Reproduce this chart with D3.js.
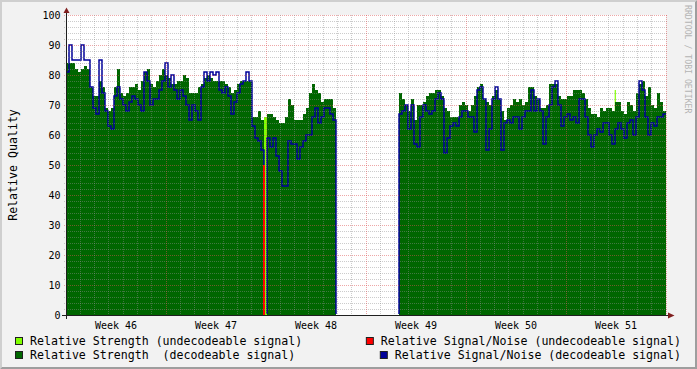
<!DOCTYPE html>
<html>
<head>
<meta charset="utf-8">
<script src="https://cdn.jsdelivr.net/npm/d3@7"></script>
<style>
  html, body { margin: 0; padding: 0; background: #f2f2f2; }
  svg { display: block; font-family: "DejaVu Sans Mono", monospace; }
</style>
</head>
<body>
<svg id="chart" width="697" height="369"></svg>
<script>
// six weeks of consolidated samples, one every 5.04 hours (200 rows)
const weekLabels = ["Week 46", "Week 47", "Week 48", "Week 49", "Week 50", "Week 51"];
const stepHours = 5.04;

// relative strength, decodeable signal (null = no data)
const strength = [
  84, 84, 84, 82, 81, 82, 83, 82, 76, 73,
  73, 78, 76, 69, 68, 69, 76, 82, 74, 73,
  74, 76, 76, 77, 75, 78, 81, 82, 77, 76,
  78, 80, 82, 80, 79, 77, 77, 78, 78, 80,
  79, 74, 74, 74, 76, 77, 79, 80, 79, 78,
  78, 78, 78, 77, 76, 74, 75, 77, 78, 78,
  78, 78, 66, 66, 68, 65, null, 67, 67, 66,
  65, 64, 64, 66, 72, 70, 65, 65, 65, 67,
  69, 74, 77, 75, 74, 71, 72, 72, 72, 69,
  null, null, null, null, null, null, null, null, null, null,
  null, null, null, null, null, null, null, null, null, null,
  null, 74, 72, 70, 68, 72, 65, 70, 70, 71,
  73, 74, 74, 75, 75, 73, 69, 68, 66, 66,
  66, 70, 71, 70, 68, 70, 73, 76, 77, 72,
  71, 70, 73, 75, 72, 68, 65, 69, 70, 72,
  71, 72, 70, 71, 76, 76, 73, 72, 69, 69,
  70, 77, 77, 77, 73, 72, 72, 73, 73, 75,
  75, 75, 74, 72, 69, 67, 67, 66, 69, 68,
  69, 69, 68, 71, 71, 68, 67, 71, 70, 68,
  74, 77, 78, 73, 76, 70, 69, 74, 71, 68
];

// relative signal/noise, decodeable signal
const snr = [
  81, 90, 85, 85, 85, 90, 85, 85, 76, 69,
  67, 85, 74, 68, 63, 62, 73, 76, 72, 70,
  68, 71, 73, 72, 70, 68, 81, 78, 70, 72,
  72, 75, 78, 84, 76, 80, 75, 72, 75, 73,
  70, 65, 70, 68, 65, 76, 81, 78, 81, 80,
  81, 75, 74, 76, 73, 67, 71, 74, 77, 78,
  81, 78, 63, 59, 58, 55, null, 59, 56, 59,
  53, 48, 43, 43, 58, 57, 57, 52, 56, 58,
  60, 60, 66, 69, 64, 66, 69, 69, 67, 65,
  null, null, null, null, null, null, null, null, null, null,
  null, null, null, null, null, null, null, null, null, null,
  null, 67, 68, 70, 62, 70, 57, 56, 66, 70,
  68, 67, 68, 72, 74, 72, 54, 59, 63, 64,
  63, 66, 68, 68, 66, 66, 61, 75, 76, 72,
  55, 62, 72, 76, 72, 55, 64, 65, 64, 66,
  66, 62, 66, 68, 68, 75, 68, 72, 68, 57,
  66, 70, 76, 78, 70, 63, 66, 67, 65, 66,
  64, 72, 72, 66, 60, 56, 60, 62, 61, 64,
  64, 60, 57, 62, 64, 62, 59, 64, 65, 60,
  66, 78, 75, 66, 60, 64, 63, 66, 66, 67
];

// undecodeable signal: short events (start hour, length in hours)
const undecStart = [332.64, 921.8];
const undecHours = [5.04, 2.0];
const undecStrength = [66, 75];
const undecSnr = [50, null];

const yTicks = [0, 10, 20, 30, 40, 50, 60, 70, 80, 90, 100];

const legendLabels = [
  "Relative Strength (undecodeable signal)",
  "Relative Signal/Noise (undecodeable signal)",
  "Relative Strength  (decodeable signal)",
  "Relative Signal/Noise (decodeable signal)"
];
const colors = { undecStrength: "#80ff00", undecSnr: "#ff0000", strength: "#006600", snr: "#000099" };
const legendColors = [colors.undecStrength, colors.undecSnr, colors.strength, colors.snr];

const W = 697, H = 369;
const pLeft = 66, pRight = 666, pTop = 15, pBottom = 315;
const totalHours = 24 * 7 * weekLabels.length;

const x = d3.scaleLinear().domain([0, totalHours]).range([pLeft, pRight]);
const y = d3.scaleLinear().domain([0, 100]).range([pBottom, pTop]);

const svg = d3.select("#chart");

// frame
svg.append("rect").attr("width", W).attr("height", H).attr("fill", "#f2f2f2");
svg.append("path").attr("d", `M0,0H${W}L${W - 2},2H2V${H - 2}L0,${H}Z`).attr("fill", "#cfcfcf");
svg.append("path").attr("d", `M${W},0V${H}H0L2,${H - 2}H${W - 2}V2Z`).attr("fill", "#9e9e9e");
svg.append("rect").attr("x", pLeft).attr("y", pTop)
  .attr("width", pRight - pLeft).attr("height", pBottom - pTop).attr("fill", "#fff");

svg.append("clipPath").attr("id", "lineclip")
  .append("rect").attr("x", pLeft).attr("y", 0).attr("width", pRight - pLeft + 1).attr("height", pBottom - 1);

// unknown rows are drawn as 0, like a CDEF would
function toPoints(arr) {
  const pts = arr.map((v, i) => ({ t: i * stepHours, v: v == null ? 0 : v }));
  pts.push({ t: arr.length * stepHours, v: pts[pts.length - 1].v });
  return pts;
}

const area = d3.area().curve(d3.curveStepAfter)
  .x(d => x(d.t)).y0(y(0)).y1(d => y(d.v));
const line = d3.line().curve(d3.curveStepAfter)
  .x(d => x(d.t)).y(d => y(d.v));

const g = svg.append("g");

// undecodeable strength
undecStart.forEach((s, i) => {
  if (undecStrength[i] == null) return;
  g.append("path")
    .attr("d", d3.area().x(d => x(d.t)).y0(y(0)).y1(d => y(d.v))(
      [{ t: s, v: undecStrength[i] }, { t: s + undecHours[i], v: undecStrength[i] }]))
    .attr("fill", colors.undecStrength);
});

g.append("path").attr("d", area(toPoints(strength))).attr("fill", colors.strength);

g.append("path").attr("d", line(toPoints(snr)))
  .attr("fill", "none").attr("stroke", colors.snr).attr("stroke-width", 1.5)
  .attr("clip-path", "url(#lineclip)");

// undecodeable signal/noise: a narrow spike in the middle of the event
undecStart.forEach((s, i) => {
  if (undecSnr[i] == null) return;
  const xm = Math.round(x(s + undecHours[i] / 2)) - 1;
  g.append("line")
    .attr("x1", xm).attr("x2", xm).attr("y1", y(0)).attr("y2", y(undecSnr[i]))
    .attr("stroke", colors.undecSnr).attr("stroke-width", 2)
    .attr("shape-rendering", "crispEdges");
});

// grid on top of the graph
const grid = svg.append("g").attr("shape-rendering", "crispEdges").attr("stroke-dasharray", "1,1");
const minorCol = "rgba(143,143,143,0.45)", majorCol = "rgba(222,79,79,0.5)";

d3.range(0, 101, 2).forEach(v => {
  const yy = Math.round(y(v)) + 0.5;
  grid.append("line").attr("x1", pLeft - 2).attr("x2", pRight + 2)
    .attr("y1", yy).attr("y2", yy)
    .attr("stroke", v % 10 === 0 ? majorCol : minorCol);
});

d3.range(1, 7 * weekLabels.length + 1).forEach(day => {
  const xx = Math.floor(x(day * 24)) + 0.5;
  grid.append("line").attr("x1", xx).attr("x2", xx)
    .attr("y1", pTop).attr("y2", pBottom + 2)
    .attr("stroke", day % 7 === 0 ? majorCol : minorCol);
});

// axes
const axisCol = "#1f1f1f", arrowCol = "#801f1f";
svg.append("path").attr("d", `M${pLeft - 4},${pBottom + 0.5}H${pRight + 4}`)
  .attr("stroke", axisCol).attr("stroke-width", 1);
svg.append("path").attr("d", `M${pLeft + 0.5},${pBottom + 4}V${pTop - 4}`)
  .attr("stroke", axisCol).attr("stroke-width", 1);
svg.append("path").attr("d", `M${pRight + 2},${pBottom - 2.5}L${pRight + 2},${pBottom + 3.5}L${pRight + 8.5},${pBottom + 0.5}Z`)
  .attr("fill", arrowCol);
svg.append("path").attr("d", `M${pLeft - 2.5},${pTop - 2}L${pLeft + 3.5},${pTop - 2}L${pLeft + 0.5},${pTop - 7.5}Z`)
  .attr("fill", arrowCol);

// tick labels
svg.append("g").selectAll("text").data(yTicks).join("text")
  .attr("x", 60.5).attr("y", d => y(d) + 3.8)
  .attr("text-anchor", "end").attr("font-size", "10px").attr("fill", "#000")
  .text(d => d);

svg.append("g").selectAll("text").data(weekLabels).join("text")
  .attr("x", (d, i) => x((i + 0.5) * 168)).attr("y", 328.5)
  .attr("text-anchor", "middle").attr("font-size", "10px").attr("fill", "#000")
  .text(d => d);

svg.append("text").attr("transform", `translate(16.5,${(pTop + pBottom) / 2}) rotate(-90)`)
  .attr("text-anchor", "middle").attr("font-size", "11.6px").attr("fill", "#000")
  .text("Relative Quality");

svg.append("text").attr("transform", "translate(684.5,5) rotate(90)")
  .attr("font-size", "8.2px").attr("fill", "#b4b4b4")
  .text("RRDTOOL / TOBI OETIKER");

// legend: left column from x=15, right column flush right
const legend = svg.append("g").attr("font-size", "11.6px");
legendLabels.forEach((label, i) => {
  const row = Math.floor(i / 2), col = i % 2;
  const base = 345 + row * 14;
  const t = legend.append("text").attr("y", base).attr("fill", "#000")
    .attr("xml:space", "preserve").style("white-space", "pre").text(label);
  let tx = 30;
  if (col === 1) {
    tx = 681 - t.node().getComputedTextLength();
  }
  t.attr("x", tx);
  legend.append("rect").attr("x", tx - 14.5).attr("y", base - 7.5)
    .attr("width", 7).attr("height", 7)
    .attr("fill", legendColors[i]).attr("stroke", "#1f1f1f").attr("stroke-width", 1);
});
</script>
</body>
</html>
